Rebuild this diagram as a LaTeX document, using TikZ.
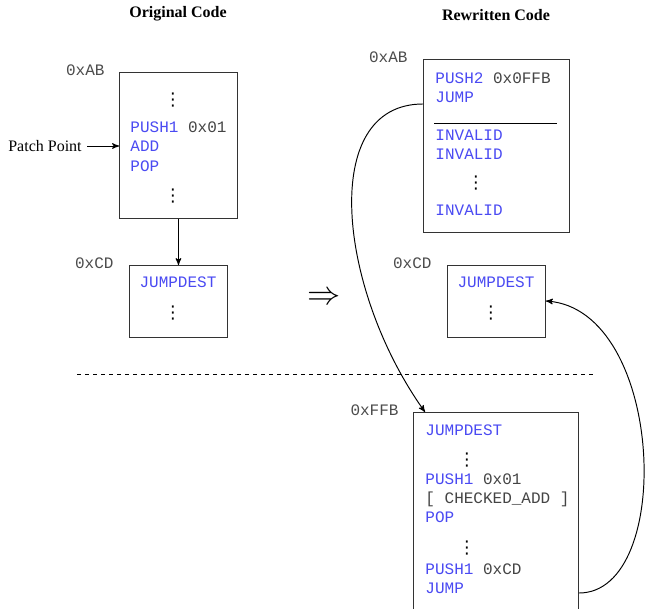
\documentclass[tikz,border=0pt]{standalone}
\usepackage{fontspec}
\setmainfont{Liberation Serif}
\setmonofont{Liberation Mono}
\newfontfamily\symfont{DejaVu Sans}
\usetikzlibrary{arrows}

\newlength\unitpx
\setlength\unitpx{0.625pt}
\definecolor{opblue}{HTML}{4A4AF2}
\definecolor{argrey}{HTML}{444444}
\newcommand\op[1]{\textcolor{opblue}{#1}}
\newcommand\dotcol{{\symfont\fontsize{11}{12}\selectfont ⋮}}

\tikzset{
  codebox/.style={draw=black!80, line width=0.6pt, rectangle, anchor=north west, inner sep=0pt},
  addr/.style={anchor=mid east, font=\ttfamily, text=black!70, inner sep=0pt},
  ins/.style={anchor=mid west, font=\ttfamily, text=argrey, inner sep=0pt},
  vd/.style={inner sep=0pt},
  title/.style={font=\bfseries},
}

\begin{document}
\begin{tikzpicture}[x=0.625pt,y=-0.625pt,>=stealth',semithick]
  \clip (0,0) rectangle (646,609);

  \node[title] (t-orig) at (178,14) {Original Code};
  \node[title] (t-rew)  at (496,15) {Rewritten Code};

  % original code
  \node[codebox, minimum width=118\unitpx, minimum height=146\unitpx] (o1) at (119,72) {};
  \node[addr] (o1-a) at ([shift={(-14,0)}]o1.north west) {0xAB};
  \node[vd]  (o1-d1) at (173,100) {\dotcol};
  \node[ins] (o1-l1) at (130,129) {\op{PUSH1} 0x01};
  \node[ins] (o1-l2) at (130,148) {\op{ADD}};
  \node[ins] (o1-l3) at (130,168) {\op{POP}};
  \node[vd]  (o1-d2) at (173,196) {\dotcol};

  \node (pp) at (45,146) {Patch Point};
  \draw[->] (pp.east) -- (pp.east -| o1.west);

  \node[codebox, minimum width=98\unitpx, minimum height=72\unitpx] (o2) at (129,265) {};
  \node[addr] (o2-a) at ([shift={(-15,0)}]o2.north west) {0xCD};
  \node[ins, anchor=mid] (o2-l1) at (178,284) {\op{JUMPDEST}};
  \node[vd]  (o2-d1) at (173,313) {\dotcol};

  \draw[->] (o1.south) -- (o2.north);

  \node[font=\fontsize{22}{26}\selectfont] (impl) at (324.5,298) {$\Rightarrow$};

  \draw[dash pattern=on 2.5pt off 2.5pt] (77,374) -- (596,374);

  % rewritten code
  \node[codebox, minimum width=146\unitpx, minimum height=173\unitpx] (r1) at (423,59) {};
  \node[addr] (r1-a) at ([shift={(-15,0)}]r1.north west) {0xAB};
  \node[ins] (r1-l1) at (435,80)  {\op{PUSH2} 0x0FFB};
  \node[ins] (r1-l2) at (435,99)  {\op{JUMP}};
  \draw (434,123) -- (557,123);
  \node[ins] (r1-l3) at (435,137) {\op{INVALID}};
  \node[ins] (r1-l4) at (435,156) {\op{INVALID}};
  \node[vd]  (r1-d1) at (476,183) {\dotcol};
  \node[ins] (r1-l5) at (435,212) {\op{INVALID}};

  \node[codebox, minimum width=98\unitpx, minimum height=72\unitpx] (r2) at (447,265) {};
  \node[addr] (r2-a) at ([shift={(-15,0)}]r2.north west) {0xCD};
  \node[ins, anchor=mid] (r2-l1) at (496,284) {\op{JUMPDEST}};
  \node[vd]  (r2-d1) at (491,313) {\dotcol};

  \node[codebox, minimum width=165\unitpx, minimum height=220\unitpx] (f1) at (413,412) {};
  \node[addr] (f1-a) at ([shift={(-14,0)}]f1.north west) {0xFFB};
  \node[ins] (f1-l1) at (425,432) {\op{JUMPDEST}};
  \node[vd]  (f1-d1) at (467,460) {\dotcol};
  \node[ins] (f1-l2) at (425,481) {\op{PUSH1} 0x01};
  \node[ins] (f1-l3) at (425,500) {[ CHECKED\_ADD ]};
  \node[ins] (f1-l4) at (425,519) {\op{POP}};
  \node[vd]  (f1-d2) at (467,548) {\dotcol};
  \node[ins] (f1-l5) at (425,571) {\op{PUSH1} 0xCD};
  \node[ins] (f1-l6) at (425,590) {\op{JUMP}};

  % jumps
  \draw[->] (r1.west |- 0,104) .. controls (318,104) and (338,290) .. (f1.north west -| 425,0);
  \draw[->] (f1.east |- 0,593) .. controls (675,593) and (665,310) .. (r2.east |- 0,301);
\end{tikzpicture}
\end{document}
